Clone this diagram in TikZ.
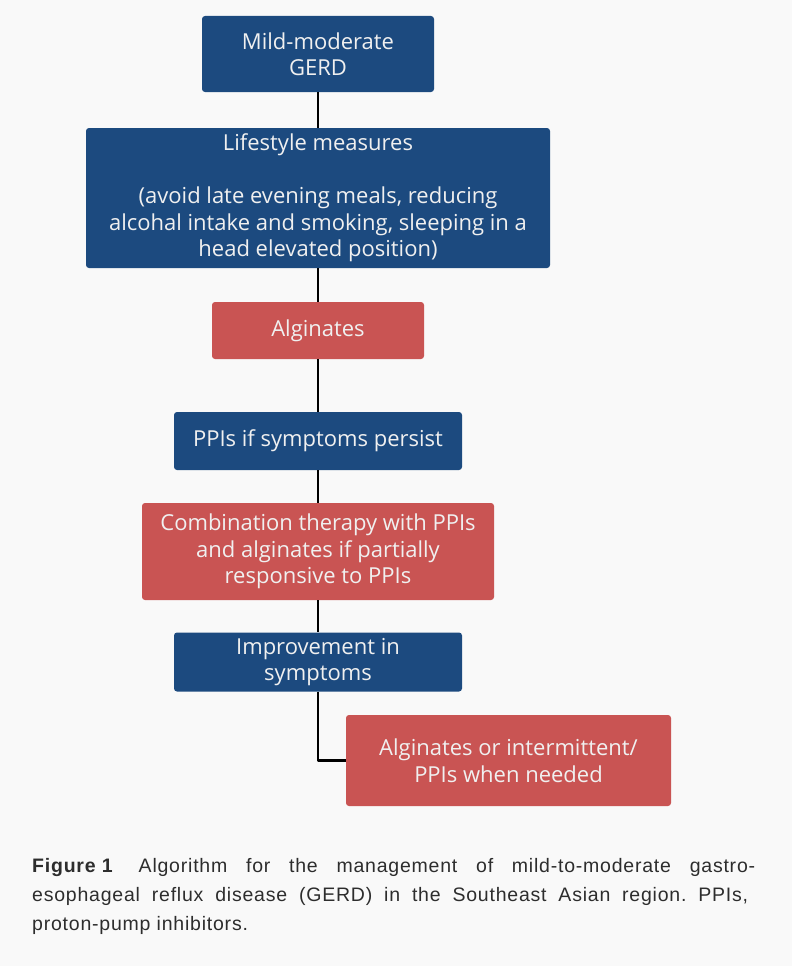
\documentclass[tikz,border=0pt]{standalone}
\usepackage{fontspec}
\setmainfont{Open Sans}
\newfontfamily\capfont[LetterSpace=4]{Liberation Sans}
\definecolor{boxblue}{RGB}{28,74,127}
\definecolor{boxred}{RGB}{201,84,83}
\definecolor{pagebg}{RGB}{249,249,249}
\definecolor{capgray}{RGB}{45,45,45}
\frenchspacing
\begin{document}
\begin{tikzpicture}[x=1pt,y=-1pt,line join=round,
	box/.style={draw=none,rounded corners=3pt,text=white!94!black,align=center,inner sep=0pt,
		font=\fontsize{22}{26.5}\selectfont},
	bluebox/.style={box,fill=boxblue},
	redbox/.style={box,fill=boxred},
	link/.style={line width=2.4pt,black},
	capline/.style={anchor=base west,inner sep=0pt,text=capgray,font=\capfont\fontsize{19.5}{29}\selectfont}]
	\fill[pagebg] (0,0) rectangle (792,966);
	\useasboundingbox (0,0) rectangle (792,966);
	\node[bluebox,minimum width=232pt,minimum height=76pt] (gerd) at (318,54) {Mild-moderate\\GERD};
	\node[bluebox,minimum width=464pt,minimum height=140pt] (life) at (318,198)
		{Lifestyle measures\\[26.5pt](avoid late evening meals, reducing\\alcohal intake and smoking, sleeping in a\\head elevated position)};
	\node[redbox,minimum width=212pt,minimum height=57pt] (alg) at (318,330.5) {Alginates};
	\node[bluebox,minimum width=288pt,minimum height=58pt] (ppi) at (318,441) {PPIs if symptoms persist};
	\node[redbox,minimum width=352pt,minimum height=97pt] (comb) at (318,551.5)
		{Combination therapy with PPIs\\and alginates if partially\\responsive to PPIs};
	\node[bluebox,minimum width=288pt,minimum height=59pt] (impr) at (318,662) {Improvement in\\symptoms};
	\node[redbox,minimum width=325pt,minimum height=91pt] (inter) at (508.5,760.5)
		{Alginates or intermittent/\\PPIs when needed};
	\foreach \a/\b in {gerd/life,life/alg,alg/ppi,ppi/comb,comb/impr}
		\draw[link] (\a)--(\b);
	\draw[link] (impr.south)|-(inter.west);
	% caption
	\node[capline] (cap1) at (32,872)
		{\makebox[723pt][s]{\textbf{\mbox{Figure 1}}\kern26pt Algorithm for the management of mild-to-moderate gastro-}};
	\node[capline] (cap2) at (32,901)
		{\makebox[716pt][s]{esophageal reflux disease (GERD) in the Southeast Asian region. PPIs,}};
	\node[capline] (cap3) at (32,930) {proton-pump inhibitors.};
\end{tikzpicture}
\end{document}
